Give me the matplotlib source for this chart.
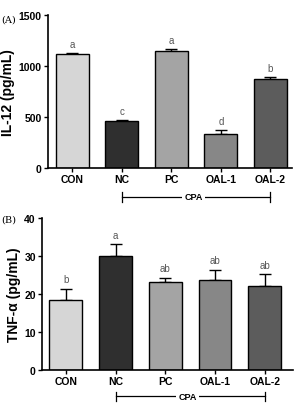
import numpy as np
import matplotlib
matplotlib.use("Agg")
import matplotlib.pyplot as plt
from matplotlib import transforms

groups = ["CON", "NC", "PC", "OAL-1", "OAL-2"]
colors = ["#d6d6d6", "#2f2f2f", "#a4a4a4", "#878787", "#5c5c5c"]

il12 = [1115, 460, 1145, 335, 875]
il12_err = [10, 10, 22, 38, 14]
il12_sig = ["a", "c", "a", "d", "b"]

tnf = [18.4, 30.1, 23.2, 23.6, 22.1]
tnf_err = [3.0, 3.0, 1.1, 2.8, 3.2]
tnf_sig = ["b", "a", "ab", "ab", "ab"]

plt.rcParams["font.family"] = ["Liberation Sans", "DejaVu Sans"]

fig = plt.figure(figsize=(2.96, 4.06), dpi=100)


def panel(rect, vals, errs, sig, ymax, yticks, ylabel, tag, tag_y, xlim, bracket_y):
    ax = fig.add_axes(rect)
    x = np.arange(len(groups))
    ax.bar(x, vals, width=0.66, color=colors, edgecolor="black", linewidth=1.0, zorder=2)
    ax.errorbar(x, vals, yerr=[np.zeros(len(vals)), errs], fmt="none",
                ecolor="black", elinewidth=1.0, capsize=4, capthick=1.0, zorder=1)
    for xi, v, e, s in zip(x, vals, errs, sig):
        ax.annotate(s, (xi, v + e), xytext=(0, 3), textcoords="offset points",
                    ha="center", va="bottom", fontsize=7, color="#555555")
    ax.set_xlim(*xlim)
    ax.set_ylim(0, ymax)
    ax.set_yticks(yticks)
    ax.set_xticks(x)
    ax.set_xticklabels(groups, fontweight="bold", fontsize=7.5)
    for lab in ax.get_yticklabels():
        lab.set_fontweight("bold")
        lab.set_fontsize(7.5)
    ax.spines["top"].set_visible(False)
    ax.spines["right"].set_visible(False)
    ax.spines["left"].set_linewidth(1.2)
    ax.spines["bottom"].set_linewidth(1.2)
    ax.tick_params(direction="out", length=3, width=1.0, pad=1.5)
    ax.set_ylabel(ylabel, fontweight="bold", fontsize=10, labelpad=2.5)
    fig.text(0.003, tag_y, tag, family="DejaVu Serif", fontsize=7,
             ha="left", va="center")

    # CPA bracket under NC..OAL-2
    tr = transforms.blended_transform_factory(ax.transData, ax.transAxes)
    ax.plot([1, 4], [bracket_y, bracket_y], color="black", lw=0.9,
            transform=tr, clip_on=False)
    for xe in (1, 4):
        ax.plot([xe, xe], [bracket_y - 0.03, bracket_y + 0.03], color="black",
                lw=0.9, transform=tr, clip_on=False)
    ax.text(2.45, bracket_y, "CPA", transform=tr, ha="center", va="center",
            fontsize=6.5, fontweight="bold",
            bbox=dict(facecolor="white", edgecolor="none", pad=1.5))
    return ax


panel([0.162, 0.584, 0.825, 0.377], il12, il12_err, il12_sig, 1500,
      [0, 500, 1000, 1500], "IL-12 (pg/mL)", "(A)", 0.951, (-0.49, 4.44), -0.19)
panel([0.142, 0.086, 0.848, 0.375], tnf, tnf_err, tnf_sig, 40,
      [0, 10, 20, 30, 40], "TNF-α (pg/mL)", "(B)", 0.458, (-0.48, 4.57), -0.172)

fig.savefig("out.png", dpi=100)
